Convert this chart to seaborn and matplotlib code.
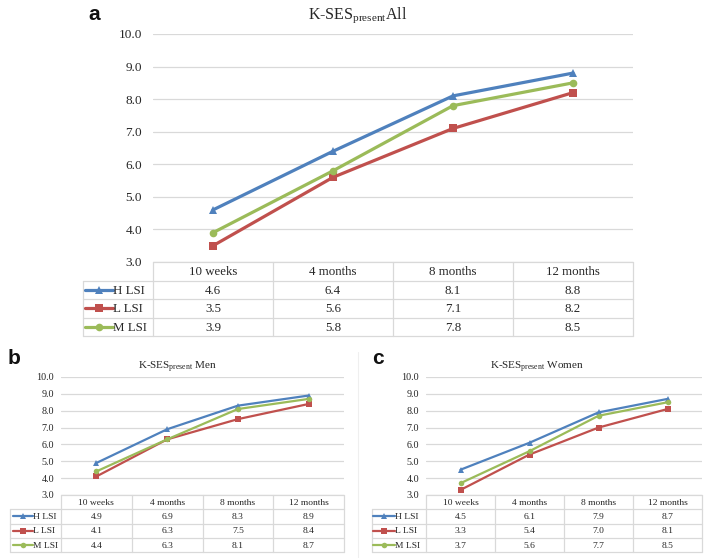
import numpy as np
import pandas as pd
import matplotlib
matplotlib.use("Agg")
import matplotlib.pyplot as plt
import seaborn as sns

# ---------------- data ----------------
categories = ["10 weeks", "4 months", "8 months", "12 months"]
series_names = ["H LSI", "L LSI", "M LSI"]

all_H = [4.6, 6.4, 8.1, 8.8]
all_L = [3.5, 5.6, 7.1, 8.2]
all_M = [3.9, 5.8, 7.8, 8.5]

men_H = [4.9, 6.9, 8.3, 8.9]
men_L = [4.1, 6.3, 7.5, 8.4]
men_M = [4.4, 6.3, 8.1, 8.7]

women_H = [4.5, 6.1, 7.9, 8.7]
women_L = [3.3, 5.4, 7.0, 8.1]
women_M = [3.7, 5.6, 7.7, 8.5]

y_ticks = [3, 4, 5, 6, 7, 8, 9, 10]

# ---------------- style ----------------
sns.set_style("white")
plt.rcParams["font.family"] = ["Liberation Serif", "DejaVu Serif"]
plt.rcParams["mathtext.fontset"] = "custom"
plt.rcParams["mathtext.rm"] = "Liberation Serif"
plt.rcParams["mathtext.it"] = "Liberation Serif:italic"
plt.rcParams["mathtext.bf"] = "Liberation Serif:bold"

palette = {"H LSI": "#4F81BD", "L LSI": "#C0504D", "M LSI": "#9BBB59"}
markers = {"H LSI": "^", "L LSI": "s", "M LSI": "o"}
GRID = "#D9D9D9"
TXT = "#262626"

W, H = 706, 558
fig = plt.figure(figsize=(W / 100, H / 100), dpi=100)


def px_axes(x0, y0, x1, y1):
    return fig.add_axes([x0 / W, 1 - y1 / H, (x1 - x0) / W, (y1 - y0) / H])


def make_df(h, l, m):
    rows = []
    for name, vals in zip(series_names, [h, l, m]):
        for c, v in zip(categories, vals):
            rows.append({"time": c, "series": name, "value": v})
    return pd.DataFrame(rows)


def draw_panel(h, l, m, title, letter, letter_xy, title_y,
               leg_x0, x0, x1, y_top, y_bot, tab_bot,
               fs_tick, fs_tab, fs_title, lw, ms, tick_pad,
               leg_line, leg_text_x):
    df = make_df(h, l, m)
    ax = px_axes(x0, y_top, x1, y_bot)
    sns.lineplot(data=df, x="time", y="value", hue="series", style="series",
                 palette=palette, markers=markers, dashes=False,
                 linewidth=lw, markersize=ms, markeredgewidth=0,
                 legend=False, ax=ax, sort=False)
    ax.set_xlim(-0.5, 3.5)
    ax.set_ylim(3, 10)
    ax.set_yticks(y_ticks)
    ax.set_yticklabels([f"{v:.1f}" for v in y_ticks], fontsize=fs_tick, color=TXT)
    ax.tick_params(axis="y", length=0, pad=tick_pad)
    ax.set_xticks([])
    ax.set_xlabel("")
    ax.set_ylabel("")
    ax.yaxis.grid(True, color=GRID, linewidth=0.9)
    ax.set_axisbelow(True)
    for s in ax.spines.values():
        s.set_visible(False)

    # title centred over the full chart (legend column + data columns)
    fig.text(((leg_x0 + x1) / 2) / W, 1 - title_y / H,
             title, ha="center", va="center", fontsize=fs_title, color=TXT)
    fig.text(letter_xy[0] / W, 1 - letter_xy[1] / H, letter,
             ha="left", va="center", fontsize=15, fontweight="bold",
             family=["Liberation Sans", "DejaVu Sans"], color="#111111")

    # data table
    colw = (x1 - x0) / 4.0
    lw_units = (x0 - leg_x0) / colw
    tx = px_axes(leg_x0, y_bot, x1, tab_bot)
    left = -0.5 - lw_units
    tx.set_xlim(left, 3.5)
    tx.set_ylim(4, 0)
    tx.axis("off")
    lc = dict(color=GRID, linewidth=0.9, clip_on=False)
    tx.plot([-0.5, 3.5], [0, 0], **lc)
    for r in [1, 2, 3, 4]:
        tx.plot([left, 3.5], [r, r], **lc)
    tx.plot([left, left], [1, 4], **lc)
    for c in [-0.5, 0.5, 1.5, 2.5, 3.5]:
        tx.plot([c, c], [0, 4], **lc)
    for i, cat in enumerate(categories):
        tx.text(i, 0.55, cat, ha="center", va="center", fontsize=fs_tab, color=TXT)
    for r, (name, vals) in enumerate(zip(series_names, [h, l, m])):
        yy = r + 1.55
        for i, v in enumerate(vals):
            tx.text(i, yy, f"{v:.1f}", ha="center", va="center",
                    fontsize=fs_tab, color=TXT)
        la = left + (leg_line[0] - leg_x0) / colw
        lb = left + (leg_line[1] - leg_x0) / colw
        tx.plot([la, lb], [r + 1.5, r + 1.5], color=palette[name],
                linewidth=lw, clip_on=False)
        tx.plot([(la + lb) / 2], [r + 1.5], marker=markers[name],
                color=palette[name], markersize=ms, markeredgewidth=0,
                clip_on=False)
        tx.text(left + (leg_text_x - leg_x0) / colw, yy, name, ha="left",
                va="center", fontsize=fs_tab, color=TXT)


draw_panel(all_H, all_L, all_M, r"K-SES$_{\rm present}$All", "a", (88, 15), 15,
           83, 153, 633, 34, 262, 336,
           fs_tick=9.5, fs_tab=9.3, fs_title=11.5, lw=2.3, ms=5.5, tick_pad=8,
           leg_line=(85, 113), leg_text_x=113)

draw_panel(men_H, men_L, men_M, r"K-SES$_{\rm present}$ Men", "b", (8, 359), 367,
           10, 61, 344, 377, 495, 552,
           fs_tick=7.3, fs_tab=6.8, fs_title=8, lw=1.6, ms=4, tick_pad=5,
           leg_line=(13, 33), leg_text_x=33)

draw_panel(women_H, women_L, women_M, r"K-SES$_{\rm present}$ Women", "c", (372, 359), 367,
           372, 426, 702, 377, 495, 552,
           fs_tick=7.3, fs_tab=6.8, fs_title=8, lw=1.6, ms=4, tick_pad=5,
           leg_line=(373, 395), leg_text_x=395)

# faint frame separator between the two lower charts
fig.add_artist(plt.Line2D([358 / W, 358 / W], [1 - 352 / H, 0], color="#EFEFEF",
                          linewidth=0.8))

fig.savefig("out.png", dpi=100, facecolor="white")
